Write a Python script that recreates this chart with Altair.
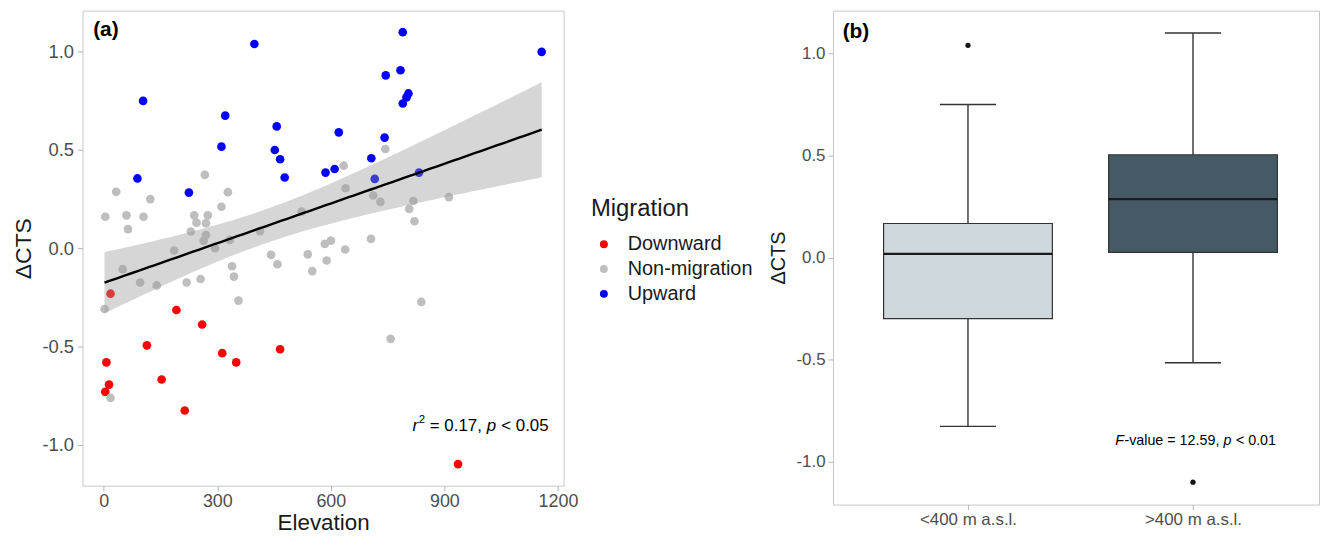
import altair as alt
import numpy as np
import pandas as pd

# ---------------- data ----------------
red_x = [18, 192, 260, 114, 466, 313, 350, 7, 153, 14, 4, 214, 936]
red_y = [-0.232, -0.315, -0.389, -0.495, -0.515, -0.535, -0.582, -0.582, -0.669, -0.695, -0.732, -0.827, -1.10]

gray_x = [744, 267, 634, 639, 33, 328, 123, 712, 731, 912,
          818, 807, 821, 311, 4, 60, 105, 64, 239, 275,
          245, 270, 230, 270, 264, 333, 294, 186, 413, 523,
          706, 584, 600, 638, 442, 539, 50, 96, 140, 219,
          256, 339, 344, 356, 459, 551, 589, 2, 18, 839, 758]
gray_y = [0.505, 0.373, 0.42, 0.305, 0.287, 0.285, 0.25, 0.268, 0.236, 0.26,
          0.24, 0.20, 0.137, 0.211, 0.16, 0.167, 0.16, 0.097, 0.167, 0.167,
          0.13, 0.127, 0.085, 0.067, 0.037, 0.042, 0.0, -0.012, 0.087, 0.186,
          0.047, 0.022, 0.038, -0.007, -0.034, -0.032, -0.107, -0.175, -0.19, -0.175,
          -0.157, -0.092, -0.145, -0.267, -0.082, -0.117, -0.063, -0.31, -0.763, -0.274, -0.462]

blue_x = [398, 790, 1157, 104, 745, 784, 805, 800, 790, 321, 457, 621, 742, 311,
          452, 466, 707, 610, 586, 478, 89, 833, 716, 225]
blue_y = [1.04, 1.10, 1.00, 0.75, 0.88, 0.906, 0.788, 0.768, 0.737, 0.675, 0.62, 0.59,
          0.563, 0.517, 0.50, 0.453, 0.458, 0.403, 0.385, 0.36, 0.355, 0.385, 0.353, 0.283]

GROUPS = ["Downward", "Non-migration", "Upward"]
GROUP_COLORS = ["#ff0000", "#bebebe", "#0000ff"]
BOX_LABELS = ["<400 m a.s.l.", ">400 m a.s.l."]
BOX_FILLS = ["#cfd8dc", "#455a64"]
SPLIT_ELEVATION = 400

X_TICKS = [0, 300, 600, 900, 1200]
Y_TICKS = [-1.0, -0.5, 0.0, 0.5, 1.0]

PANEL_A = "(a)"
PANEL_B = "(b)"
STAT_A = [("r", "italic"), ("2", "sup"), (" = 0.17, ", "normal"), ("p", "italic"), (" < 0.05", "normal")]
STAT_B = [("F", "italic"), ("-value = 12.59, ", "normal"), ("p", "italic"), (" < 0.01", "normal")]

FONT = "Liberation Sans"

# ---------------- tables ----------------
elev = red_x + gray_x + blue_x
dcts = red_y + gray_y + blue_y
mig = [GROUPS[0]] * len(red_x) + [GROUPS[1]] * len(gray_x) + [GROUPS[2]] * len(blue_x)
pts = pd.DataFrame({"elevation": elev, "dcts": dcts, "migration": mig})

# linear model with 95% confidence band
xa = np.array(elev, float)
ya = np.array(dcts, float)
n = len(xa)
slope, icpt = np.polyfit(xa, ya, 1)
res = ya - (icpt + slope * xa)
s = np.sqrt((res ** 2).sum() / (n - 2))
sxx = ((xa - xa.mean()) ** 2).sum()
tq = 1.9879  # t(0.975, df=86)
gx = np.linspace(xa.min(), xa.max(), 80)
fit = icpt + slope * gx
se = s * np.sqrt(1.0 / n + (gx - xa.mean()) ** 2 / sxx)
band_df = pd.DataFrame({"elevation": gx, "fit": fit, "lo": fit - tq * se, "hi": fit + tq * se})

# character advance widths (Liberation Sans, per 1000 em)
CW = {' ': 278, '=': 584, '<': 584, '>': 584, '-': 333, '.': 278, ',': 278,
      'r': 333, 'p': 556, 'F': 611, 'v': 500, 'a': 556, 'l': 222, 'u': 556, 'e': 556}
for d in "0123456789":
    CW[d] = 556


def tw(txt, size):
    return sum(CW.get(c, 556) for c in txt) * size / 1000.0


neg_expr = "datum.value < 0 ? '-' + format(-datum.value, '.1f') : format(datum.value, '.1f')"

# ---------------- panel (a) ----------------
xL = alt.Scale(domain=[-56, 1215], nice=False, zero=False)
yL = alt.Scale(domain=[-1.21, 1.21], nice=False, zero=False)
axis_xL = alt.Axis(values=X_TICKS, format="d", title="Elevation", labelFontSize=18,
                   titleFontSize=22.5, labelPadding=2, titlePadding=1.5)
axis_yL = alt.Axis(values=Y_TICKS, labelExpr=neg_expr, title="ΔCTS", labelFontSize=18.5,
                   titleFontSize=23, labelPadding=4, titlePadding=6)


def XL(f):
    return alt.X(f, type="quantitative", scale=xL, axis=axis_xL)


def YL(f):
    return alt.Y(f, type="quantitative", scale=yL, axis=axis_yL)


points = alt.Chart(pts).mark_circle(size=76, opacity=1).encode(
    x=XL("elevation"), y=YL("dcts"),
    color=alt.Color("migration:N", scale=alt.Scale(domain=GROUPS, range=GROUP_COLORS),
                    legend=alt.Legend(title="Migration", orient="none", legendX=511.5, legendY=188,
                                      titleFontSize=24, titleFontWeight="normal", titleColor="#1a1a1a",
                                      titleFont=FONT, labelFont=FONT, labelFontSize=20,
                                      labelColor="#1a1a1a", symbolType="circle", symbolSize=64,
                                      symbolOffset=3, labelOffset=14, rowPadding=5,
                                      titlePadding=13, padding=0, symbolStrokeWidth=0)),
)
band = alt.Chart(band_df).mark_area(color="#999999", opacity=0.4).encode(
    x=XL("elevation"), y=YL("lo"), y2="hi:Q")
line = alt.Chart(band_df).mark_line(color="black", strokeWidth=2.4).encode(
    x=XL("elevation"), y=YL("fit"))


def seg_layers(xv, yv, segs, size, XF, YF):
    layers = []
    off = 0.0
    for txt, kind in segs:
        fs = size * 0.68 if kind == "sup" else size
        dy = -size * 0.36 if kind == "sup" else 0
        style = "italic" if kind == "italic" else "normal"
        lead = len(txt) - len(txt.lstrip(' '))
        stripped = txt.strip(' ')
        dx = off + tw(' ' * lead, fs)
        df = pd.DataFrame({"x": [xv], "y": [yv], "t": [stripped]})
        layers.append(alt.Chart(df).mark_text(align="left", baseline="middle", dx=dx, dy=dy,
                                              fontSize=fs, fontStyle=style, font=FONT,
                                              color="black").encode(x=XF("x"), y=YF("y"), text="t:N"))
        off += tw(txt, fs) + (0.5 if kind == "italic" else 0)
    return layers


lab_a = alt.Chart(pd.DataFrame({"x": [-28], "y": [1.109], "t": [PANEL_A]})).mark_text(
    align="left", baseline="middle", fontSize=21, fontWeight="bold", font=FONT, color="black"
).encode(x=XL("x"), y=YL("y"), text="t:N")

left = alt.layer(points, band, line, lab_a, *seg_layers(816, -0.907, STAT_A, 17, XL, YL)).properties(
    width=484, height=478)

# ---------------- panel (b) ----------------
xR = alt.Scale(domain=[0.4, 2.56], nice=False, zero=False)
yR = alt.Scale(domain=[-1.21, 1.21], nice=False, zero=False)
axis_xR = alt.Axis(values=[1, 2], labelExpr=f"datum.value == 1 ? '{BOX_LABELS[0]}' : '{BOX_LABELS[1]}'",
                   title=None, labelFontSize=17, labelPadding=2)
axis_yR = alt.Axis(values=Y_TICKS, labelExpr=neg_expr, title="ΔCTS", labelFontSize=17,
                   titleFontSize=20, labelPadding=3, titlePadding=7)


def XR(f):
    return alt.X(f, type="quantitative", scale=xR, axis=axis_xR)


def YR(f):
    return alt.Y(f, type="quantitative", scale=yR, axis=axis_yR)


base = alt.Chart(pts).transform_calculate(pos=f"datum.elevation < {SPLIT_ELEVATION} ? 1 : 2")
fenced = base.transform_joinaggregate(q1="q1(dcts)", q3="q3(dcts)", groupby=["pos"]).transform_calculate(
    lo="datum.q1 - 1.5 * (datum.q3 - datum.q1)", hi="datum.q3 + 1.5 * (datum.q3 - datum.q1)")
whisk = fenced.transform_filter("datum.dcts >= datum.lo && datum.dcts <= datum.hi").transform_aggregate(
    wlo="min(dcts)", whi="max(dcts)", groupby=["pos"]).transform_calculate(
    c1="datum.pos - 0.125", c2="datum.pos + 0.125")
stats = base.transform_aggregate(q1="q1(dcts)", q3="q3(dcts)", med="median(dcts)", groupby=["pos"]).transform_calculate(
    b1="datum.pos - 0.375", b2="datum.pos + 0.375")

w_rule = whisk.mark_rule(color="#333333", strokeWidth=1.4).encode(x=XR("pos"), y=YR("wlo"), y2="whi:Q")
cap_lo = whisk.mark_rule(color="#333333", strokeWidth=1.4).encode(x=XR("c1"), x2="c2:Q", y=YR("wlo"))
cap_hi = whisk.mark_rule(color="#333333", strokeWidth=1.4).encode(x=XR("c1"), x2="c2:Q", y=YR("whi"))
box = stats.mark_rect(stroke="#333333", strokeWidth=1.2).encode(
    x=XR("b1"), x2="b2:Q", y=YR("q1"), y2="q3:Q",
    color=alt.Color("pos:N", scale=alt.Scale(domain=[1, 2], range=BOX_FILLS), legend=None))
med = stats.mark_rule(color="#1a1a1a", strokeWidth=2.2).encode(x=XR("b1"), x2="b2:Q", y=YR("med"))
outl = fenced.transform_filter("datum.dcts < datum.lo || datum.dcts > datum.hi").mark_circle(
    size=28, color="#111111", opacity=1).encode(x=XR("pos"), y=YR("dcts"))

lab_b = alt.Chart(pd.DataFrame({"x": [0.443], "y": [1.103], "t": [PANEL_B]})).mark_text(
    align="left", baseline="middle", fontSize=21, fontWeight="bold", font=FONT, color="black"
).encode(x=XR("x"), y=YR("y"), text="t:N")

right = alt.layer(w_rule, cap_lo, cap_hi, box, med, outl, lab_b,
                  *seg_layers(1.654, -0.90, STAT_B, 14.4, XR, YR)).properties(width=489, height=497)

chart = alt.hconcat(left, right, spacing=15).resolve_scale(
    color="independent", x="independent", y="independent"
).properties(
    padding={"left": 4, "top": 0, "right": 0, "bottom": 0}
).configure_view(stroke="#c8c8c8", strokeWidth=1).configure_axis(
    grid=False, domain=False, tickColor="#b3b3b3", tickSize=5, labelColor="#4d4d4d",
    labelFont=FONT, titleFont=FONT, titleFontWeight="normal", titleColor="#1a1a1a"
)

chart.save("out.html", embed_options={"renderer": "svg", "actions": False})
